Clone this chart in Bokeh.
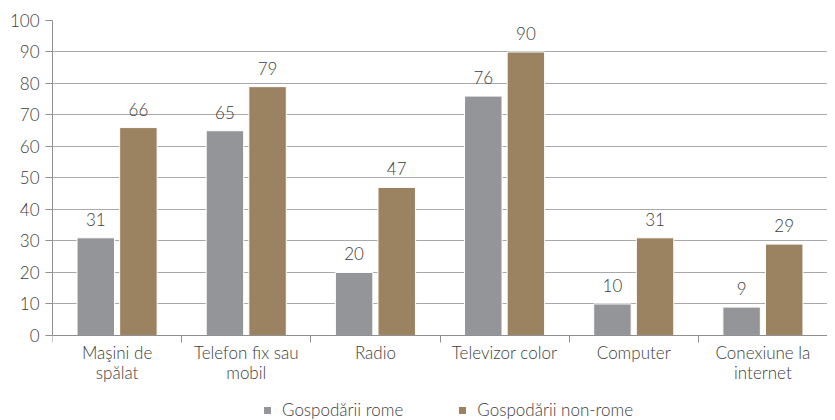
import numpy as np
from bokeh.plotting import figure
from bokeh.models import ColumnDataSource, FixedTicker, Range1d, Legend, LegendItem
from bokeh.transform import dodge
from bokeh.core.properties import value
from bokeh.embed import file_html
from bokeh.resources import INLINE

categories = ["Maşini de\nspălat", "Telefon fix sau\nmobil", "Radio",
              "Televizor color", "Computer", "Conexiune la\ninternet"]
rome = [31, 65, 20, 76, 10, 9]
non_rome = [66, 79, 47, 90, 31, 29]
series_names = ["Gospodării rome", "Gospodării non-rome"]
y_ticks = list(range(0, 101, 10))

FONT = "Lato Light"
FS = "17px"
TEXT = "#3d3d3d"
GRID = "#a9a9a9"
AXIS = "#8f8f8f"
C_ROME = "#939598"
C_NON = "#9b8361"

pos = [i + 0.5 for i in range(len(categories))]
bounds = list(range(len(categories) + 1))
src = ColumnDataSource(dict(x=pos, rome=rome, non=non_rome,
                            rl=[str(v) for v in rome], nl=[str(v) for v in non_rome]))

# frame extends below zero so the category labels and legend live inside it
p = figure(frame_width=775, frame_height=400, x_range=Range1d(0, len(categories)),
           y_range=Range1d(-27, 100),
           output_backend="svg", toolbar_location=None,
           min_border_left=52, min_border_top=20, min_border_right=0, min_border_bottom=0,
           outline_line_color=None)

r1 = p.vbar(x=dodge('x', -0.165, range=p.x_range), top='rome', width=0.29, source=src,
            fill_color=C_ROME, line_color="white", line_width=1)
r2 = p.vbar(x=dodge('x', 0.165, range=p.x_range), top='non', width=0.29, source=src,
            fill_color=C_NON, line_color="white", line_width=1)

for col, off in (("rome", -0.165), ("non", 0.165)):
    p.text(x=dodge('x', off, range=p.x_range), y=col, text=('rl' if col == 'rome' else 'nl'),
           source=src, text_align='center', text_baseline='bottom', y_offset=-12,
           text_font=value(FONT), text_font_size=FS, text_color=TEXT)

p.xgrid.visible = False
p.ygrid.grid_line_color = GRID
p.ygrid.grid_line_width = 1

p.yaxis.ticker = FixedTicker(ticks=y_ticks)
p.yaxis.bounds = (y_ticks[0], y_ticks[-1])
p.yaxis.axis_line_color = AXIS
p.yaxis.major_tick_line_color = AXIS
p.yaxis.major_tick_out = 7
p.yaxis.major_tick_in = 0
p.yaxis.minor_tick_line_color = None
p.yaxis.major_label_standoff = 6
p.yaxis.major_label_text_font = FONT
p.yaxis.major_label_text_font_size = FS
p.yaxis.major_label_text_color = TEXT

p.xaxis.fixed_location = 0
p.xaxis.ticker = FixedTicker(ticks=pos, minor_ticks=bounds)
p.xaxis.major_label_overrides = {x: c for x, c in zip(pos, categories)}
p.xaxis.axis_line_color = AXIS
p.xaxis.major_tick_line_color = None
p.xaxis.minor_tick_line_color = AXIS
p.xaxis.minor_tick_out = 7
p.xaxis.minor_tick_in = 0
p.xaxis.major_tick_out = 3
p.xaxis.major_tick_in = 0
p.xaxis.major_label_standoff = 0
p.xaxis.major_label_text_font = FONT
p.xaxis.major_label_text_font_size = FS
p.xaxis.major_label_text_line_height = 0.93
p.xaxis.major_label_text_color = TEXT

legend = Legend(items=[LegendItem(label=series_names[0], renderers=[r1]),
                       LegendItem(label=series_names[1], renderers=[r2])],
                orientation="horizontal", location=(210, 0),
                border_line_color=None, background_fill_alpha=0,
                glyph_width=10, glyph_height=10, label_standoff=10, spacing=54,
                label_text_font=FONT, label_text_font_size=FS, label_text_color=TEXT,
                padding=0, margin=0)
p.add_layout(legend, "center")

open("out.html", "w").write(file_html(p, INLINE))
